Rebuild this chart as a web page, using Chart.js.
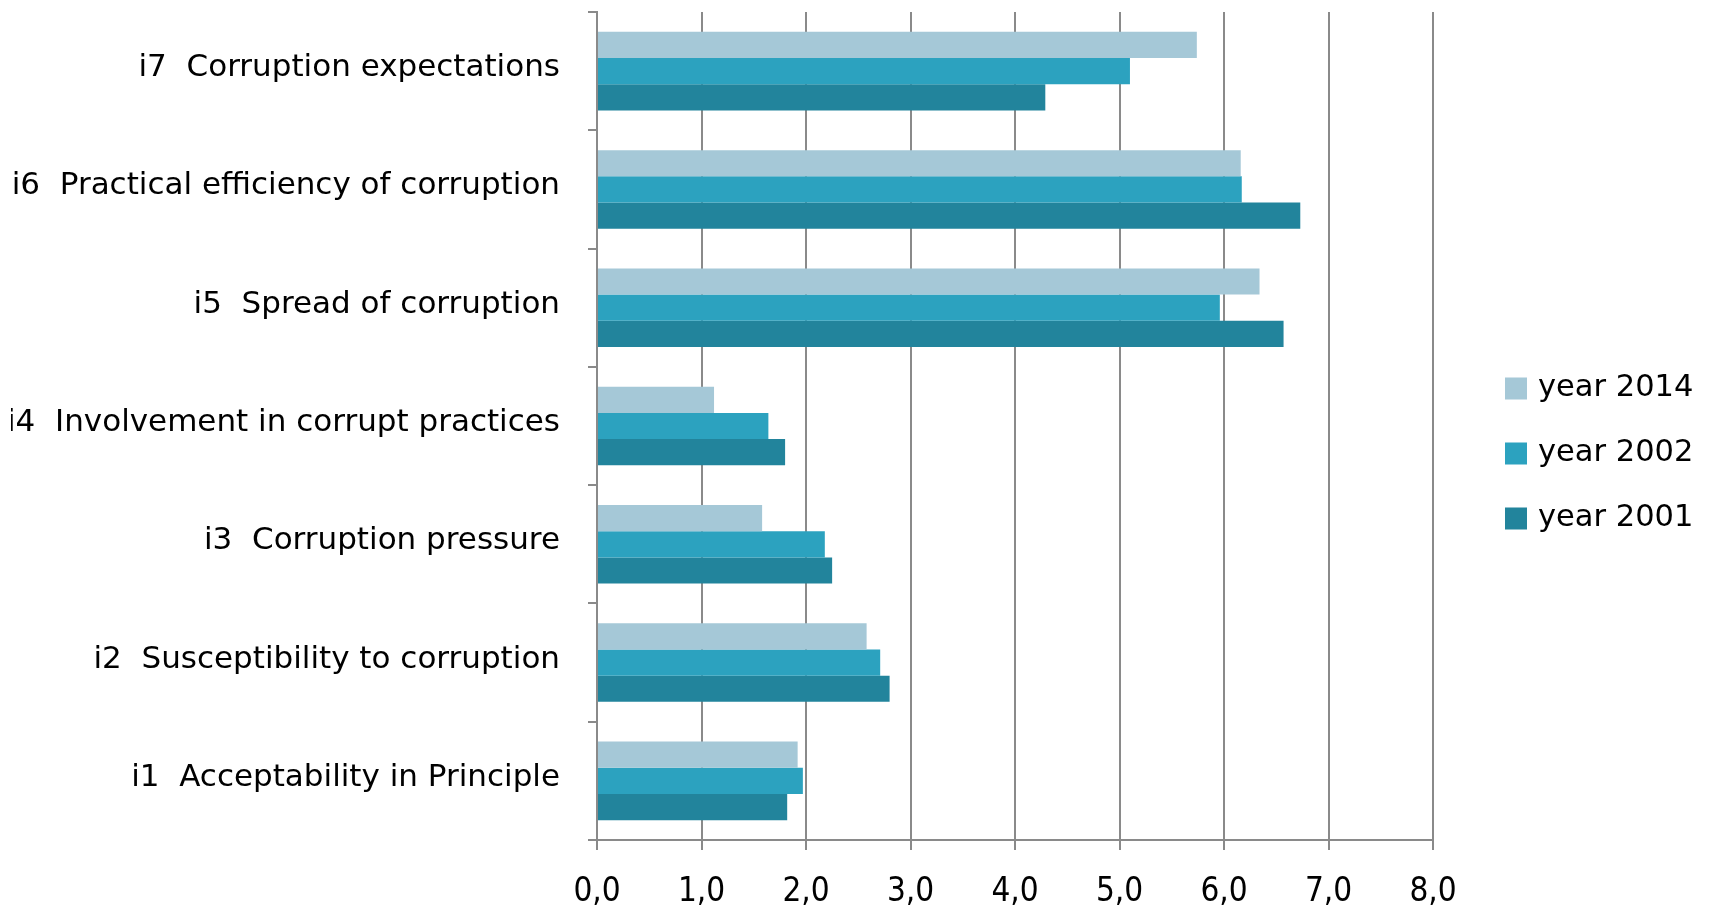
<!DOCTYPE html>
<html>
<head>
<meta charset="utf-8">
<script src="https://cdn.jsdelivr.net/npm/chart.js@4/dist/chart.umd.min.js"></script>
<style>
  html, body { margin: 0; padding: 0; background: #fff; }
  canvas { display: block; }
</style>
</head>
<body>
<canvas id="chart" width="1709" height="907"></canvas>
<script>
// categories, top to bottom
const categories = [
  'i7  Corruption expectations',
  'i6  Practical efficiency of corruption',
  'i5  Spread of corruption',
  'i4  Involvement in corrupt practices',
  'i3  Corruption pressure',
  'i2  Susceptibility to corruption',
  'i1  Acceptability in Principle'
];

// series values
const year2014 = [5.74, 6.16, 6.34, 1.12, 1.58, 2.58, 1.92];
const year2002 = [5.10, 6.17, 5.96, 1.64, 2.18, 2.71, 1.97];
const year2001 = [4.29, 6.73, 6.57, 1.80, 2.25, 2.80, 1.82];

const seriesNames = ['year 2014', 'year 2002', 'year 2001'];
const seriesColors = ['#a5c8d7', '#2ca2bf', '#22849c'];

// x tick labels, comma decimal
const xTickLabels = ['0,0', '1,0', '2,0', '3,0', '4,0', '5,0', '6,0', '7,0', '8,0'];

const FONT = "'DejaVu Sans', sans-serif";
const FONT_NUM = "'DejaVu Sans Condensed', 'DejaVu Sans', sans-serif";
const GRID = '#8a8a8a';

// legend drawn at the right, next to the plot
const sideLegend = {
  id: 'sideLegend',
  afterDraw(chart) {
    const ctx = chart.ctx;
    const x = chart.chartArea.right + 72;
    const midY = chart.height / 2;
    const rowH = 65;
    ctx.save();
    ctx.font = '30.5px ' + FONT;
    ctx.textBaseline = 'middle';
    chart.data.datasets.forEach((ds, i) => {
      const y = midY + (i - 1) * rowH;
      ctx.fillStyle = ds.backgroundColor;
      ctx.fillRect(x, y - 11, 22, 22);
      ctx.fillStyle = '#000';
      ctx.fillText(ds.label, x + 33, y);
    });
    ctx.restore();
  }
};

const values = [year2014, year2002, year2001];

new Chart(document.getElementById('chart'), {
  type: 'bar',
  data: {
    labels: categories,
    datasets: seriesNames.map((name, i) => ({
      label: name,
      data: values[i],
      backgroundColor: seriesColors[i],
      borderWidth: 0,
      categoryPercentage: 0.664,
      barPercentage: 1.0
    }))
  },
  options: {
    indexAxis: 'y',
    responsive: false,
    animation: false,
    layout: { padding: { left: 11, right: 276, top: 12, bottom: 0 } },
    plugins: {
      legend: { display: false },
      tooltip: { enabled: false }
    },
    scales: {
      x: {
        min: 0,
        max: 8,
        afterFit(scale) { scale.height = 67; },
        ticks: {
          stepSize: 1,
          padding: 23,
          color: '#000',
          font: { family: FONT_NUM, size: 33 },
          callback: (v, i) => xTickLabels[i]
        },
        grid: { color: GRID, lineWidth: 2, tickLength: 10 },
        border: { color: GRID, width: 2 }
      },
      y: {
        afterFit(scale) {
          scale.width = 586;
          scale.paddingTop = 0;
          scale.paddingBottom = 0;
        },
        ticks: {
          padding: 28,
          labelOffset: -3,
          color: '#000',
          font: { family: FONT, size: 31 }
        },
        grid: { color: GRID, lineWidth: 2, tickLength: 9, drawOnChartArea: false, offset: true },
        border: { color: GRID, width: 2 }
      }
    }
  },
  plugins: [sideLegend]
});
</script>
</body>
</html>
